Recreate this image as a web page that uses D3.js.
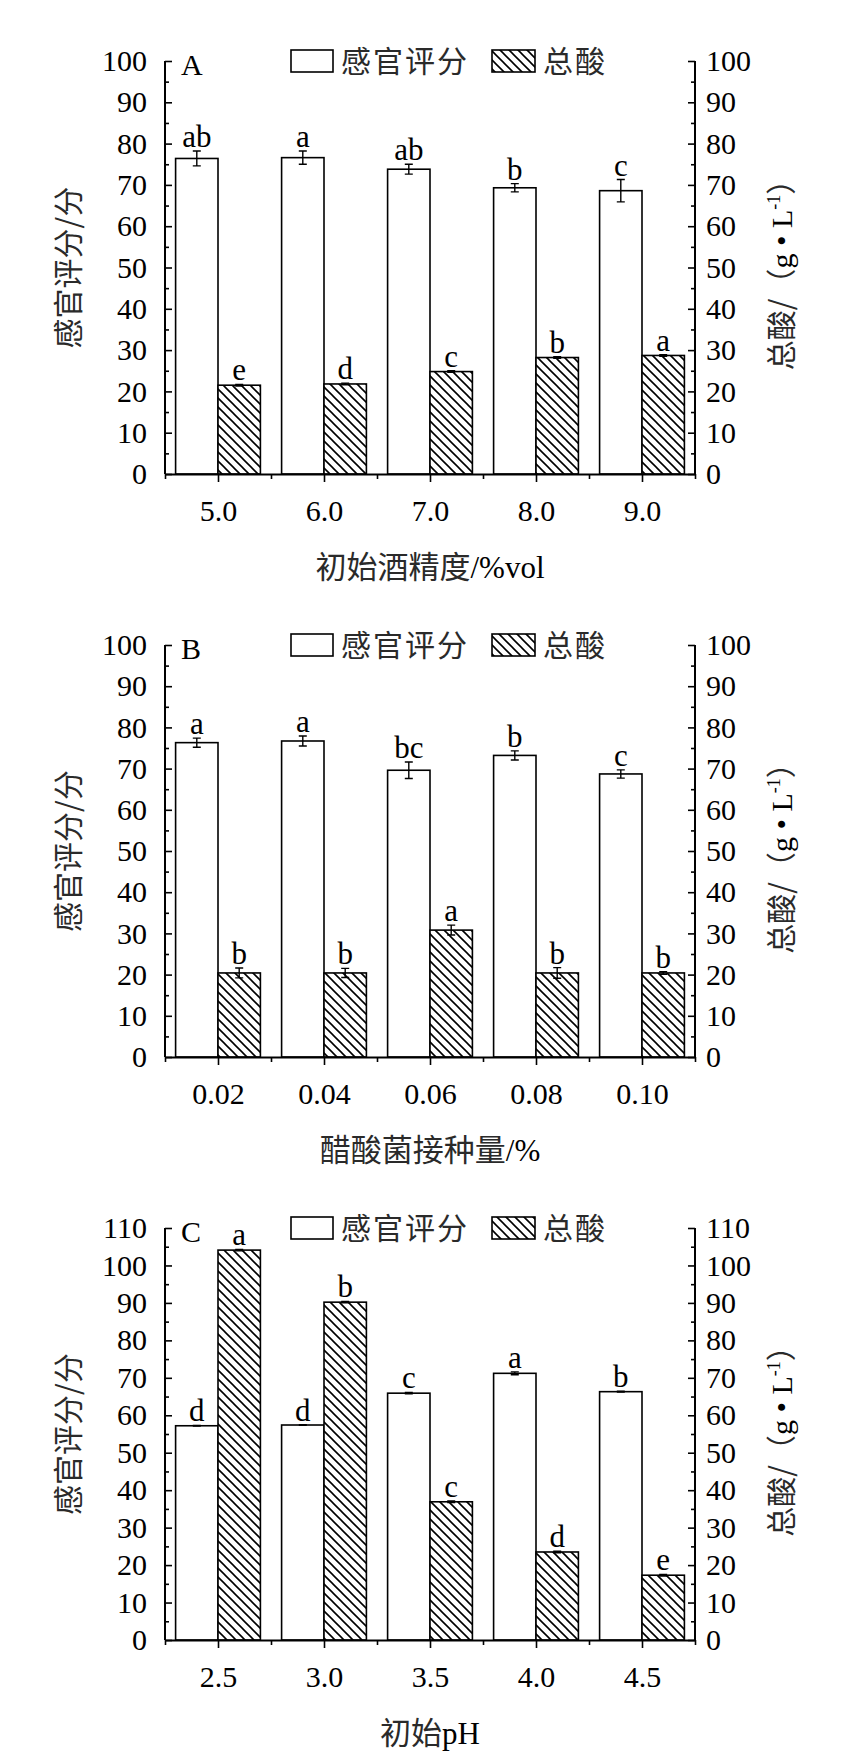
<!DOCTYPE html>
<html>
<head>
<meta charset="utf-8">
<script src="https://cdn.jsdelivr.net/npm/d3@7"></script>
<style>
  body { margin: 0; background: #fff; }
  svg { display: block; }
  .num { font-family: "Liberation Serif", "Times New Roman", serif; fill: #000; }
  .cjk { font-family: "Noto Sans CJK SC", sans-serif; fill: #2a2a2a; }
</style>
</head>
<body>
<div id="svg-container"></div>
<script>
// ---------------- data ----------------
// A: 初始酒精度
const catsA = ["5.0", "6.0", "7.0", "8.0", "9.0"];
const scoreA = [76.4, 76.6, 73.8, 69.3, 68.6];
const scoreErrA = [1.8, 1.6, 1.2, 1.0, 2.7];
const acidA = [21.5, 21.8, 24.8, 28.2, 28.7];
const acidErrA = [0.2, 0.2, 0.2, 0.2, 0.2];
const scoreSigA = ["ab", "a", "ab", "b", "c"];
const acidSigA = ["e", "d", "c", "b", "a"];

// B: 醋酸菌接种量
const catsB = ["0.02", "0.04", "0.06", "0.08", "0.10"];
const scoreB = [76.3, 76.7, 69.6, 73.2, 68.7];
const scoreErrB = [1.1, 1.2, 2.0, 1.1, 1.0];
const acidB = [20.4, 20.4, 30.8, 20.4, 20.4];
const acidErrB = [1.2, 1.1, 1.2, 1.3, 0.3];
const scoreSigB = ["a", "a", "bc", "b", "c"];
const acidSigB = ["b", "b", "a", "b", "b"];

// C: 初始pH
const catsC = ["2.5", "3.0", "3.5", "4.0", "4.5"];
const scoreC = [57.2, 57.4, 65.9, 71.2, 66.3];
const scoreErrC = [0.1, 0.1, 0.2, 0.4, 0.1];
const acidC = [104.1, 90.2, 36.9, 23.5, 17.3];
const acidErrC = [0.2, 0.2, 0.2, 0.2, 0.2];
const scoreSigC = ["d", "d", "c", "a", "b"];
const acidSigC = ["a", "b", "c", "d", "e"];

const legendNames = ["感官评分", "总酸"];

// ---------------- svg ----------------
const width = 852, height = 1763;
const svg = d3.select("#svg-container").append("svg")
  .attr("width", width).attr("height", height);

// 斜线填充
const pat = svg.append("defs").append("pattern")
  .attr("id", "hatch").attr("patternUnits", "userSpaceOnUse")
  .attr("width", 9).attr("height", 9);
pat.append("rect").attr("width", 9).attr("height", 9).attr("fill", "#fff");
pat.append("path")
  .attr("d", "M0,0L9,9M7,-2L11,2M-2,7L2,11")
  .attr("stroke", "#000").attr("stroke-width", 1.6);

const left = 165, right = 695;
const xScale = d3.scaleLinear().domain([0, 5]).range([left, right]);
const bw = (xScale(1) - xScale(0)) * 0.4;

function drawPanel(p) {
  const g = svg.append("g");
  const y1 = d3.scaleLinear().domain([0, p.yMax]).range([p.bottom, p.top]);
  const y2 = d3.scaleLinear().domain([0, p.yMax]).range([p.bottom, p.top]);
  const majors = d3.range(0, p.yMax + 1, 10);
  const minors = d3.range(5, p.yMax, 10);

  // bars
  p.cats.forEach((c, i) => {
    const cx = xScale(i + 0.5);
    g.append("rect")
      .attr("x", cx - bw).attr("y", y1(p.score[i]))
      .attr("width", bw).attr("height", p.bottom - y1(p.score[i]))
      .attr("fill", "#fff").attr("stroke", "#000").attr("stroke-width", 1.6);
    g.append("rect")
      .attr("x", cx).attr("y", y2(p.acid[i]))
      .attr("width", bw).attr("height", p.bottom - y2(p.acid[i]))
      .attr("fill", "url(#hatch)").attr("stroke", "#000").attr("stroke-width", 1.6);
  });

  // error bars + letters
  const series = [
    { vals: p.score, errs: p.scoreErr, sig: p.scoreSig, y: y1, off: -bw / 2 },
    { vals: p.acid, errs: p.acidErr, sig: p.acidSig, y: y2, off: bw / 2 },
  ];
  series.forEach((s) => {
    s.vals.forEach((v, i) => {
      const cx = xScale(i + 0.5) + s.off;
      const yt = s.y(v + s.errs[i]), yb = s.y(v - s.errs[i]);
      g.append("path")
        .attr("d", `M${cx},${yt}V${yb}M${cx - 4},${yt}H${cx + 4}M${cx - 4},${yb}H${cx + 4}`)
        .attr("stroke", "#000").attr("stroke-width", 1.4).attr("fill", "none");
      g.append("text").attr("class", "num")
        .attr("x", cx).attr("y", yt - 4)
        .attr("text-anchor", "middle").attr("font-size", 31)
        .text(s.sig[i]);
    });
  });

  // left axis (ticks inward)
  g.append("g").attr("transform", `translate(${left},0)`)
    .call(d3.axisLeft(y1).tickValues(majors).tickSize(-7).tickSizeOuter(0).tickPadding(18))
    .call((a) => a.select(".domain").remove())
    .call((a) => a.selectAll("text").attr("class", "num").attr("font-size", 30).attr("fill", "#000"));
  g.append("g").attr("transform", `translate(${left},0)`)
    .call(d3.axisLeft(y1).tickValues(minors).tickSize(-4).tickFormat(""))
    .call((a) => a.select(".domain").remove());

  // right axis
  g.append("g").attr("transform", `translate(${right},0)`)
    .call(d3.axisRight(y2).tickValues(majors).tickSize(-7).tickSizeOuter(0).tickPadding(11))
    .call((a) => a.select(".domain").remove())
    .call((a) => a.selectAll("text").attr("class", "num").attr("font-size", 30).attr("fill", "#000"));
  g.append("g").attr("transform", `translate(${right},0)`)
    .call(d3.axisRight(y2).tickValues(minors).tickSize(-4).tickFormat(""))
    .call((a) => a.select(".domain").remove());

  // vertical axis lines
  [left, right].forEach((x) => {
    g.append("line").attr("x1", x).attr("x2", x)
      .attr("y1", p.top).attr("y2", p.bottom)
      .attr("stroke", "#000").attr("stroke-width", 2);
  });

  // x axis
  g.append("g").attr("transform", `translate(0,${p.bottom})`)
    .call(d3.axisBottom(xScale).tickValues(d3.range(0.5, 5, 1))
      .tickFormat((d, i) => p.cats[i]).tickSize(8).tickSizeOuter(0).tickPadding(18))
    .call((a) => a.select(".domain").attr("stroke-width", 2))
    .call((a) => a.selectAll("text").attr("class", "num").attr("font-size", 30).attr("fill", "#000"));
  g.append("g").attr("transform", `translate(0,${p.bottom})`)
    .call(d3.axisBottom(xScale).tickValues(d3.range(0, 6, 1)).tickSize(5).tickFormat(""))
    .call((a) => a.select(".domain").remove());
  g.selectAll(".tick line").attr("stroke-width", 1.6);

  // x title
  const xt = g.append("text")
    .attr("x", (left + right) / 2).attr("y", p.bottom + 104)
    .attr("text-anchor", "middle").attr("font-size", 31);
  p.xTitle.forEach((t) => {
    xt.append("tspan").attr("class", t[1] ? "num" : "cjk").text(t[0]);
  });

  // y titles
  g.append("text").attr("class", "cjk")
    .attr("transform", `translate(79,${(p.top + p.bottom) / 2}) rotate(-90)`)
    .attr("text-anchor", "middle").attr("font-size", 30)
    .text("感官评分/分");
  const rt = g.append("text").attr("class", "cjk")
    .attr("transform", `translate(792,${(p.top + p.bottom) / 2}) rotate(-90)`)
    .attr("text-anchor", "middle").attr("font-size", 30);
  rt.append("tspan").text("总酸/（");
  rt.append("tspan").attr("class", "num").text("g • L");
  rt.append("tspan").attr("class", "num").attr("font-size", 18).attr("dy", -12).text("-1");
  rt.append("tspan").attr("dy", 12).text("）");

  // panel letter
  g.append("text").attr("class", "num")
    .attr("x", 181).attr("y", p.top + 14)
    .attr("font-size", 30).text(p.key);

  // legend
  const ly = p.top;
  g.append("rect").attr("x", 291).attr("y", ly - 11).attr("width", 42).attr("height", 22)
    .attr("fill", "#fff").attr("stroke", "#000").attr("stroke-width", 1.6);
  g.append("text").attr("class", "cjk").attr("x", 341).attr("y", ly + 11)
    .attr("font-size", 30).attr("letter-spacing", 2).text(legendNames[0]);
  g.append("rect").attr("x", 492).attr("y", ly - 11).attr("width", 43).attr("height", 22)
    .attr("fill", "url(#hatch)").attr("stroke", "#000").attr("stroke-width", 1.6);
  g.append("text").attr("class", "cjk").attr("x", 543).attr("y", ly + 11)
    .attr("font-size", 30).attr("letter-spacing", 2).text(legendNames[1]);
}

drawPanel({
  key: "A", top: 61, bottom: 474, yMax: 100, cats: catsA,
  score: scoreA, scoreErr: scoreErrA, acid: acidA, acidErr: acidErrA,
  scoreSig: scoreSigA, acidSig: acidSigA,
  xTitle: [["初始酒精度", false], ["/%vol", true]],
});
drawPanel({
  key: "B", top: 645, bottom: 1057, yMax: 100, cats: catsB,
  score: scoreB, scoreErr: scoreErrB, acid: acidB, acidErr: acidErrB,
  scoreSig: scoreSigB, acidSig: acidSigB,
  xTitle: [["醋酸菌接种量", false], ["/%", true]],
});
drawPanel({
  key: "C", top: 1228, bottom: 1640, yMax: 110, cats: catsC,
  score: scoreC, scoreErr: scoreErrC, acid: acidC, acidErr: acidErrC,
  scoreSig: scoreSigC, acidSig: acidSigC,
  xTitle: [["初始", false], ["pH", true]],
});
</script>
</body>
</html>
